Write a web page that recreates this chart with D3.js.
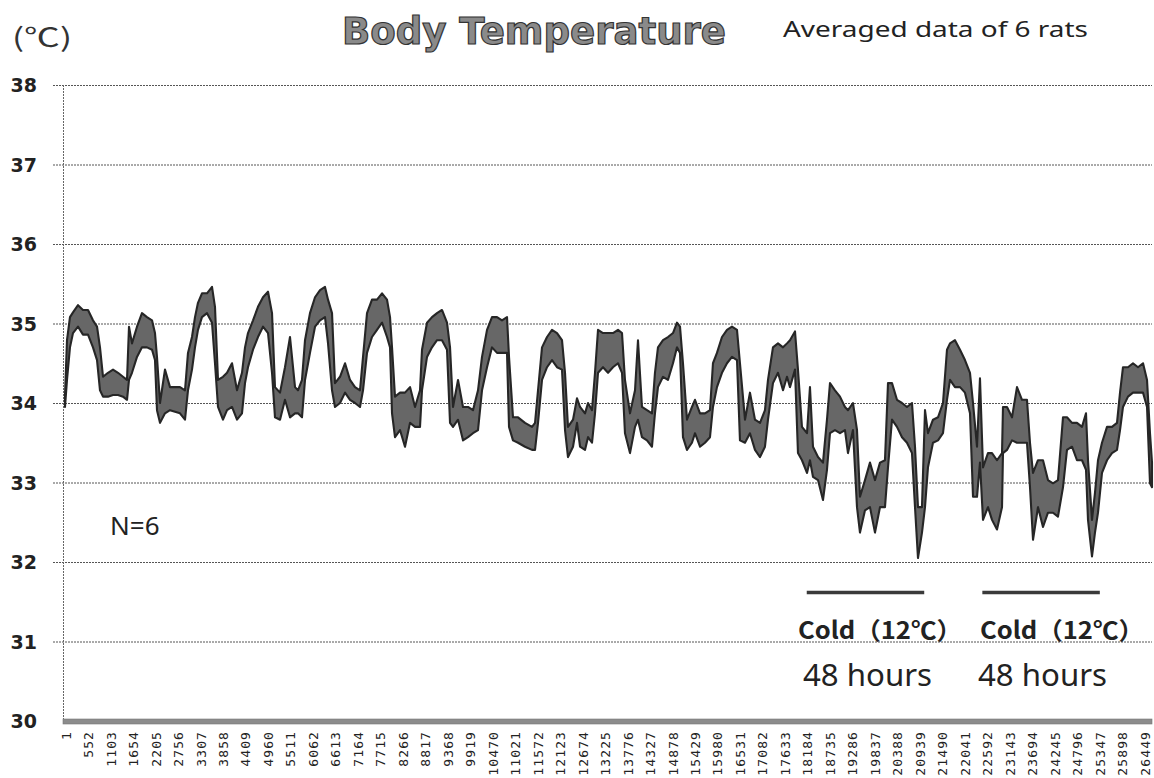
<!DOCTYPE html>
<html><head><meta charset="utf-8">
<script src="https://cdn.jsdelivr.net/npm/d3@7"></script>
<style>body{margin:0;background:#fff}svg{display:block}</style></head>
<body><svg id="c" width="1154" height="778"></svg>
<script>
// sample index (minute counter of the logger)
const sampleMinute=[1,50,123,197,320,442,565,687,786,859,933,1055,1178,1300,1423,1521,1570,1643,1766,1888,2011,2134,2207,2256,2330,2452,2575,2698,2820,2943,3016,3114,3188,3261,3359,3482,3605,3678,3752,3874,3973,4095,4218,4340,4414,4487,4610,4732,4855,4978,5076,5149,5272,5394,5517,5640,5713,5811,5885,6007,6130,6253,6375,6449,6547,6620,6743,6866,6988,7111,7233,7307,7405,7527,7650,7773,7895,7969,8018,8091,8214,8336,8459,8582,8704,8753,8876,8998,9121,9243,9366,9440,9513,9636,9758,9881,10003,10126,10224,10347,10469,10592,10714,10837,10886,10984,11107,11278,11450,11524,11597,11695,11818,11940,12063,12185,12259,12332,12455,12553,12627,12749,12823,12921,12994,13068,13190,13313,13435,13558,13656,13729,13852,13975,14048,14146,14268,14391,14464,14538,14661,14783,14906,15004,15078,15151,15249,15371,15445,15568,15690,15813,15886,15984,16107,16230,16352,16475,16548,16671,16793,16916,17039,17161,17235,17357,17480,17603,17701,17774,17897,17970,18068,18191,18264,18338,18461,18583,18681,18755,18877,19000,19122,19196,19318,19417,19490,19613,19735,19858,19981,20103,20177,20275,20397,20520,20642,20765,20839,20912,21010,21084,21157,21280,21403,21525,21623,21697,21819,21942,22064,22187,22261,22359,22432,22506,22628,22727,22849,22972,22996,23094,23217,23339,23462,23584,23658,23732,23854,23977,24099,24222,24344,24467,24565,24688,24810,24933,25031,25080,25178,25251,25325,25423,25546,25668,25791,25865,25938,26061,26183,26306,26429,26527,26600,26649];
// upper edge of the averaged temperature trace (°C)
const upperTemp=[34.10,34.79,35.08,35.14,35.23,35.17,35.17,35.04,34.96,34.70,34.33,34.38,34.42,34.38,34.33,34.29,34.96,34.75,34.96,35.13,35.08,35.04,34.88,34.58,34.00,34.42,34.20,34.20,34.20,34.16,34.63,34.83,35.08,35.26,35.38,35.38,35.46,35.21,34.29,34.33,34.38,34.50,34.16,34.38,34.70,34.88,35.04,35.21,35.33,35.40,35.13,34.20,34.13,34.45,34.83,34.20,34.16,34.29,34.79,35.13,35.33,35.42,35.46,35.30,35.13,34.25,34.33,34.50,34.29,34.20,34.16,34.58,35.13,35.30,35.30,35.38,35.30,35.08,34.70,34.08,34.13,34.13,34.20,33.95,34.16,34.67,35.01,35.08,35.13,35.17,35.01,34.70,33.95,34.29,33.95,33.95,33.91,34.16,34.58,34.92,35.08,35.08,35.04,35.08,34.58,33.82,33.82,33.75,33.70,33.75,34.16,34.70,34.83,34.92,34.88,34.79,34.38,33.70,33.79,34.06,33.95,33.87,34.00,33.91,34.38,34.92,34.88,34.88,34.88,34.92,34.88,34.29,33.87,34.16,34.79,33.95,33.91,33.87,34.38,34.70,34.79,34.83,34.88,35.01,34.96,34.50,33.79,33.95,34.04,33.87,33.87,33.91,34.50,34.63,34.83,34.92,34.96,34.92,34.50,33.79,34.13,33.79,33.75,33.91,34.29,34.70,34.75,34.70,34.75,34.79,34.90,34.42,33.70,33.62,34.20,33.45,33.32,33.25,33.79,34.25,34.16,34.08,33.95,33.91,34.00,33.66,32.82,33.03,33.25,33.03,33.25,33.28,34.25,34.25,34.04,34.00,33.95,34.00,33.45,32.69,32.69,33.91,33.62,33.79,33.82,34.00,34.67,34.75,34.79,34.67,34.54,34.38,34.00,33.45,34.31,33.19,33.37,33.37,33.28,33.37,33.95,33.95,33.82,34.20,34.04,34.04,33.50,33.12,33.28,33.28,33.03,32.99,33.03,33.82,33.82,33.75,33.75,33.70,33.87,33.28,32.53,32.87,33.28,33.50,33.70,33.70,33.75,34.13,34.45,34.45,34.50,34.45,34.50,34.29,33.62,33.25];
// lower edge of the averaged temperature trace (°C)
const lowerTemp=[33.95,34.29,34.70,34.88,34.96,34.86,34.86,34.70,34.54,34.16,34.08,34.08,34.10,34.10,34.08,34.04,34.29,34.38,34.58,34.70,34.70,34.67,34.54,33.91,33.75,33.87,33.91,33.89,33.87,33.79,34.16,34.42,34.70,34.92,35.08,35.13,35.01,34.50,33.95,33.79,33.91,33.95,33.79,33.87,34.25,34.45,34.67,34.83,34.96,34.88,34.38,33.82,33.79,34.04,33.82,33.87,33.87,33.82,34.29,34.63,34.96,35.04,35.08,34.75,34.16,33.95,34.00,34.13,34.04,34.00,33.95,34.16,34.63,34.83,34.92,35.01,34.83,34.70,33.87,33.57,33.66,33.45,33.75,33.70,33.70,34.16,34.58,34.70,34.79,34.79,34.67,33.75,33.70,33.79,33.53,33.57,33.62,33.66,34.16,34.45,34.70,34.63,34.63,34.63,33.70,33.53,33.50,33.45,33.41,33.41,33.75,34.29,34.45,34.54,34.45,34.42,33.66,33.32,33.45,33.75,33.45,33.41,33.57,33.50,33.87,34.38,34.45,34.38,34.45,34.50,34.38,33.62,33.37,33.70,33.79,33.57,33.53,33.45,33.87,34.20,34.33,34.29,34.50,34.70,34.63,33.57,33.41,33.50,33.62,33.45,33.50,33.57,33.95,34.20,34.38,34.50,34.58,34.54,33.53,33.50,33.62,33.41,33.32,33.45,33.79,34.25,34.38,34.16,34.33,34.20,34.42,33.37,33.28,33.12,33.28,33.07,33.03,32.78,33.16,33.62,33.66,33.62,33.66,33.37,33.66,32.69,32.37,32.65,32.69,32.37,32.69,32.69,33.19,33.79,33.70,33.57,33.50,33.37,32.69,32.05,32.37,32.69,33.19,33.50,33.53,33.62,34.04,34.29,34.20,34.20,34.13,33.87,32.82,32.82,33.25,32.53,32.69,32.53,32.41,32.69,33.37,33.41,33.53,33.50,33.50,33.50,32.94,32.28,32.69,32.44,32.62,32.62,32.57,32.94,33.41,33.45,33.28,33.28,33.16,32.53,32.07,32.37,32.62,33.12,33.28,33.37,33.41,33.66,33.95,34.08,34.13,34.13,34.13,33.95,32.99,32.94];
const yTicks=[30,31,32,33,34,35,36,37,38];
const xTickLabels=[1,552,1103,1654,2205,2756,3307,3858,4409,4960,5511,6062,6613,7164,7715,8266,8817,9368,9919,10470,11021,11572,12123,12674,13225,13776,14327,14878,15429,15980,16531,17082,17633,18184,18735,19286,19837,20388,20939,21490,22041,22592,23143,23694,24245,24796,25347,25898,26449];
const coldPeriods=[[18185,21065],[22490,25370]];
const coldLabels=["Cold（12℃）","Cold（12℃）"];
const durationLabels=["48 hours","48 hours"];

const svg=d3.select("#c");
const x=d3.scaleLinear().domain([1,26649]).range([65,1152]);
const y=d3.scaleLinear().domain([30,38]).range([721,85]);

// gridlines
svg.append("g").selectAll("line").data(yTicks.filter(d=>d>30)).join("line")
  .attr("x1",53).attr("x2",1152).attr("y1",d=>y(d)+0.5).attr("y2",d=>y(d)+0.5)
  .attr("stroke","#555").attr("stroke-width",1).attr("stroke-dasharray","2,1");
// y axis line
svg.append("line").attr("x1",63.5).attr("x2",63.5).attr("y1",y(38)).attr("y2",y(30))
  .attr("stroke","#666").attr("stroke-width",1).attr("stroke-dasharray","2,1");
// y tick labels
svg.append("g").selectAll("text").data(yTicks).join("text")
  .attr("x",37).attr("y",d=>y(d)).attr("dy","0.38em").attr("text-anchor","end")
  .attr("font-family","DejaVu Sans").attr("font-weight","bold").attr("font-size",19)
  .attr("fill","#222").text(d=>d);

// data band
const area=d3.area().x((d,i)=>x(sampleMinute[i])).y0((d,i)=>y(lowerTemp[i])).y1((d,i)=>y(upperTemp[i]));
svg.append("path").datum(upperTemp).attr("d",area)
  .attr("fill","#676767").attr("stroke","#262626").attr("stroke-width",2.1).attr("stroke-linejoin","round");

// x axis bar
svg.append("rect").attr("x",63).attr("y",y(30)-2).attr("width",1152-63).attr("height",5)
  .attr("fill","#8c8c8c").attr("stroke","#777").attr("stroke-width",0.6);
// x tick labels
svg.append("g").selectAll("text").data(xTickLabels).join("text")
  .attr("transform",d=>`translate(${x(d)+1},731) rotate(-90)`)
  .attr("dy","0.36em").attr("text-anchor","end")
  .attr("font-family","DejaVu Sans Mono").attr("font-size",13).attr("letter-spacing",1.1)
  .attr("fill","#222").text(d=>d);

// cold bars
svg.append("g").selectAll("line").data(coldPeriods).join("line")
  .attr("x1",d=>x(d[0])).attr("x2",d=>x(d[1])).attr("y1",592.5).attr("y2",592.5)
  .attr("stroke","#3a3a3a").attr("stroke-width",3.5);
svg.append("g").selectAll("text").data(coldLabels).join("text")
  .attr("x",(d,i)=>[798,980][i]).attr("y",639).attr("textLength",164).attr("lengthAdjust","spacingAndGlyphs")
  .attr("font-family","Noto Sans CJK JP").attr("font-weight","bold").attr("font-size",24)
  .attr("fill","#222").text(d=>d);
svg.append("g").selectAll("text").data(durationLabels).join("text")
  .attr("x",(d,i)=>[803,978][i]).attr("y",686).attr("textLength",129).attr("lengthAdjust","spacingAndGlyphs")
  .attr("font-family","Noto Sans").attr("font-size",30)
  .attr("fill","#222").text(d=>d);

// N=6
svg.append("text").attr("x",110).attr("y",535).attr("font-family","Noto Sans").attr("font-size",26)
  .attr("fill","#222").text("N=6");

// unit
svg.append("text").attr("x",12).attr("y",47).attr("textLength",60).attr("lengthAdjust","spacingAndGlyphs")
  .attr("font-family","Noto Sans CJK JP").attr("font-size",26).attr("fill","#333").text("(℃)");
// title
svg.append("text").attr("x",342).attr("y",44).attr("textLength",384).attr("lengthAdjust","spacingAndGlyphs")
  .attr("font-family","DejaVu Sans").attr("font-weight","bold").attr("font-size",37)
  .attr("fill","#8a8a8a").attr("stroke","#333").attr("stroke-width",1.2).text("Body  Temperature");
svg.append("text").attr("x",783).attr("y",37).attr("textLength",305).attr("lengthAdjust","spacingAndGlyphs")
  .attr("font-family","Noto Sans").attr("font-size",21).attr("fill","#222").text("Averaged data of 6 rats");
</script></body></html>
